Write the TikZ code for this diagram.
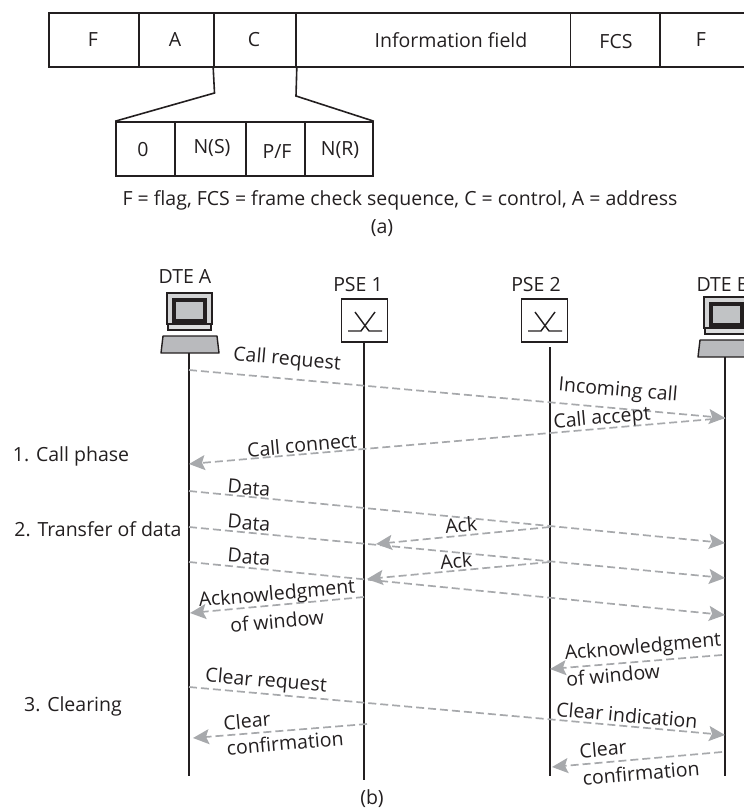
\documentclass[tikz,border=0pt]{standalone}
\usepackage{fontspec}
\setmainfont{Open Sans}
\usetikzlibrary{arrows.meta}
\definecolor{sigline}{HTML}{A7A9AC}
\definecolor{inkdark}{HTML}{231F20}
\tikzstyle{field}=[rectangle,draw=inkdark,line width=1.6pt,minimum height=54pt,inner sep=0pt]
\tikzstyle{subfield}=[rectangle,draw=inkdark,line width=1.6pt,minimum height=54pt,inner sep=0pt]
\tikzstyle{switchbox}=[rectangle,draw=inkdark,line width=1.6pt,minimum width=46pt,minimum height=43pt,inner sep=0pt]
\tikzstyle{txt}=[text=inkdark,inner sep=0pt,font=\fontsize{19.5}{23}\selectfont,align=center]
\tikzstyle{life}=[draw=inkdark,line width=2pt]
\tikzstyle{zoomline}=[draw=inkdark,line width=1.6pt]
\tikzstyle{signal}=[draw=sigline,line width=1.7pt,dash pattern=on 8pt off 4pt,-{Stealth[length=16pt,width=15pt,inset=3pt,sigline]}]
\newcommand{\switchmark}[2]{
\draw[inkdark,line width=1.4pt] (#1-17,#2+10) -- (#1-4,#2+10) -- (#1+10,#2-9);
\draw[inkdark,line width=1.4pt] (#1-10,#2-9) -- (#1+4,#2+10) -- (#1+17,#2+10);
}
\newcommand{\terminal}[2]{
\filldraw[fill=sigline!50,draw=inkdark,line width=1.4pt] (#1,#2) rectangle (#1+45,#2+31);
\filldraw[fill=sigline!70,draw=inkdark,line width=3.4pt] (#1+7,#2+7) rectangle (#1+38,#2+28);
\filldraw[fill=sigline!40,draw=inkdark,line width=1.4pt] (#1+1,#2+31) rectangle (#1+44,#2+37);
\filldraw[fill=sigline!80,draw=inkdark,line width=1.4pt,line join=round] (#1-4,#2+43) -- (#1+50,#2+43) -- (#1+52,#2+60) -- (#1-6,#2+60) -- cycle;
}
\begin{document}
\begin{tikzpicture}[x=1pt,y=-1pt]
\useasboundingbox (0,0) rectangle (744,811);
%frame
\node[field,minimum width=90pt] (f1) at (94,40) {};
\node[field,minimum width=75pt] (f2) at (176.5,40) {};
\node[field,minimum width=82pt] (f3) at (255,40) {};
\node[field,minimum width=274.5pt] (f4) at (433.25,40) {};
\node[field,minimum width=89.5pt] (f5) at (615.25,40) {};
\node[field,minimum width=100pt] (f6) at (710,40) {};
\node[txt] (tf1) at (93,40) {F};
\node[txt] (tf2) at (175,40) {A};
\node[txt] (tf3) at (254,40) {C};
\node[txt] (tf4) at (451,40) {Information field};
\node[txt] (tf5) at (616,42) {FCS};
\node[txt] (tf6) at (701,40) {F};
%control
\node[subfield,minimum width=59pt] (s1) at (145.5,149) {};
\node[subfield,minimum width=71pt] (s2) at (210.5,149) {};
\node[subfield,minimum width=59pt] (s3) at (275.5,149) {};
\node[subfield,minimum width=68pt] (s4) at (339,149) {};
\node[txt] (ts1) at (143,150) {0};
\node[txt] (ts2) at (212,148) {N(S)};
\node[txt] (ts3) at (277,152) {P/F};
\node[txt] (ts4) at (340,150) {N(R)};
\coordinate (k1) at (214.5,93);
\coordinate (k2) at (296,96);
\draw[zoomline] (f3.south west) -- (k1) -- (s1.north west);
\draw[zoomline] (f3.south east) -- (k2) -- (s4.north east);
\node[txt] (legend) at (400,200) {F = flag, FCS = frame check sequence, C = control, A = address};
\node[txt] (capa) at (382,228) {(a)};
%stations
\node[txt] (dtea) at (185,277) {DTE A};
\node[txt] (pse1) at (358,285) {PSE 1};
\node[txt] (pse2) at (536,285) {PSE 2};
\node[txt] (dteb) at (723,285) {DTE B};
\terminal{167}{293}
\terminal{704}{297}
\node[switchbox] (sw1) at (364.5,320.5) {};
\node[switchbox] (sw2) at (544.5,320.5) {};
\switchmark{365}{321}
\switchmark{545}{321}
\coordinate (la1) at (189,353);
\coordinate (la2) at (189,776);
\coordinate (l12) at (364,780);
\coordinate (lt2) at (550,347);
\coordinate (l22) at (550,776);
\coordinate (lb1) at (725,357);
\coordinate (lb2) at (725,776);
\draw[life] (la1) -- (la2);
\draw[life] (sw1.south -| l12) -- (l12);
\draw[life] (lt2) -- (l22);
\draw[life] (lb1) -- (lb2);
%ends of the signals
\coordinate (m1a) at (189,370);
\coordinate (m1b) at (725,418);
\coordinate (m2a) at (725,418);
\coordinate (m2b) at (189,464);
\coordinate (m3a) at (189,491);
\coordinate (m3b) at (725,543);
\coordinate (m4a) at (189,527);
\coordinate (m4b) at (725,578);
\coordinate (m5a) at (189,562);
\coordinate (m5b) at (725,615);
\coordinate (m6a) at (550,527);
\coordinate (m6b) at (376,544);
\coordinate (m7a) at (550,562);
\coordinate (m7b) at (367,579);
\coordinate (m8a) at (364,597);
\coordinate (m8b) at (190,613);
\coordinate (m9a) at (722,655);
\coordinate (m9b) at (550,669);
\coordinate (m10a) at (189,687);
\coordinate (m10b) at (725,735);
\coordinate (m11a) at (367,724);
\coordinate (m11b) at (193,738);
\coordinate (m12a) at (722,752);
\coordinate (m12b) at (552,767);
\foreach \sig in {1,...,12}
  \draw[signal] (m\sig a) -- (m\sig b);
%labels
\node[txt,rotate=-5] (t1) at (287,360) {Call request};
\node[txt,rotate=5] (t2) at (302,445) {Call connect};
\node[txt,rotate=-5] (t3) at (618,391) {Incoming call};
\node[txt,rotate=5] (t4) at (602,419) {Call accept};
\node[txt,rotate=-5] (t5) at (249,488) {Data};
\node[txt,rotate=-5] (t6) at (249,523) {Data};
\node[txt,rotate=-5] (t7) at (249,557) {Data};
\node[txt,rotate=5] (t8) at (461,525) {Ack};
\node[txt,rotate=5] (t9) at (456,561) {Ack};
\node[txt,rotate=5] (t10) at (277,595) {Acknowledgment};
\node[txt,rotate=5] (t11) at (277,621) {of window};
\node[txt,rotate=5] (t12) at (643,648) {Acknowledgment};
\node[txt,rotate=5] (t13) at (613,675) {of window};
\node[txt,rotate=-5] (t14) at (266,682) {Clear request};
\node[txt,rotate=-5] (t15) at (627,715) {Clear indication};
\node[txt,rotate=5] (t16) at (247,721) {Clear};
\node[txt,rotate=5] (t17) at (285,743) {confirmation};
\node[txt,rotate=5] (t18) at (603,749) {Clear};
\node[txt,rotate=5] (t19) at (641,773) {confirmation};
\node[txt] (ph1) at (71,456) {1. Call phase};
\node[txt] (ph2) at (98,529) {2. Transfer of data};
\node[txt] (ph3) at (73,706) {3. Clearing};
\node[txt] (capb) at (372,799) {(b)};
\end{tikzpicture}
\end{document}
